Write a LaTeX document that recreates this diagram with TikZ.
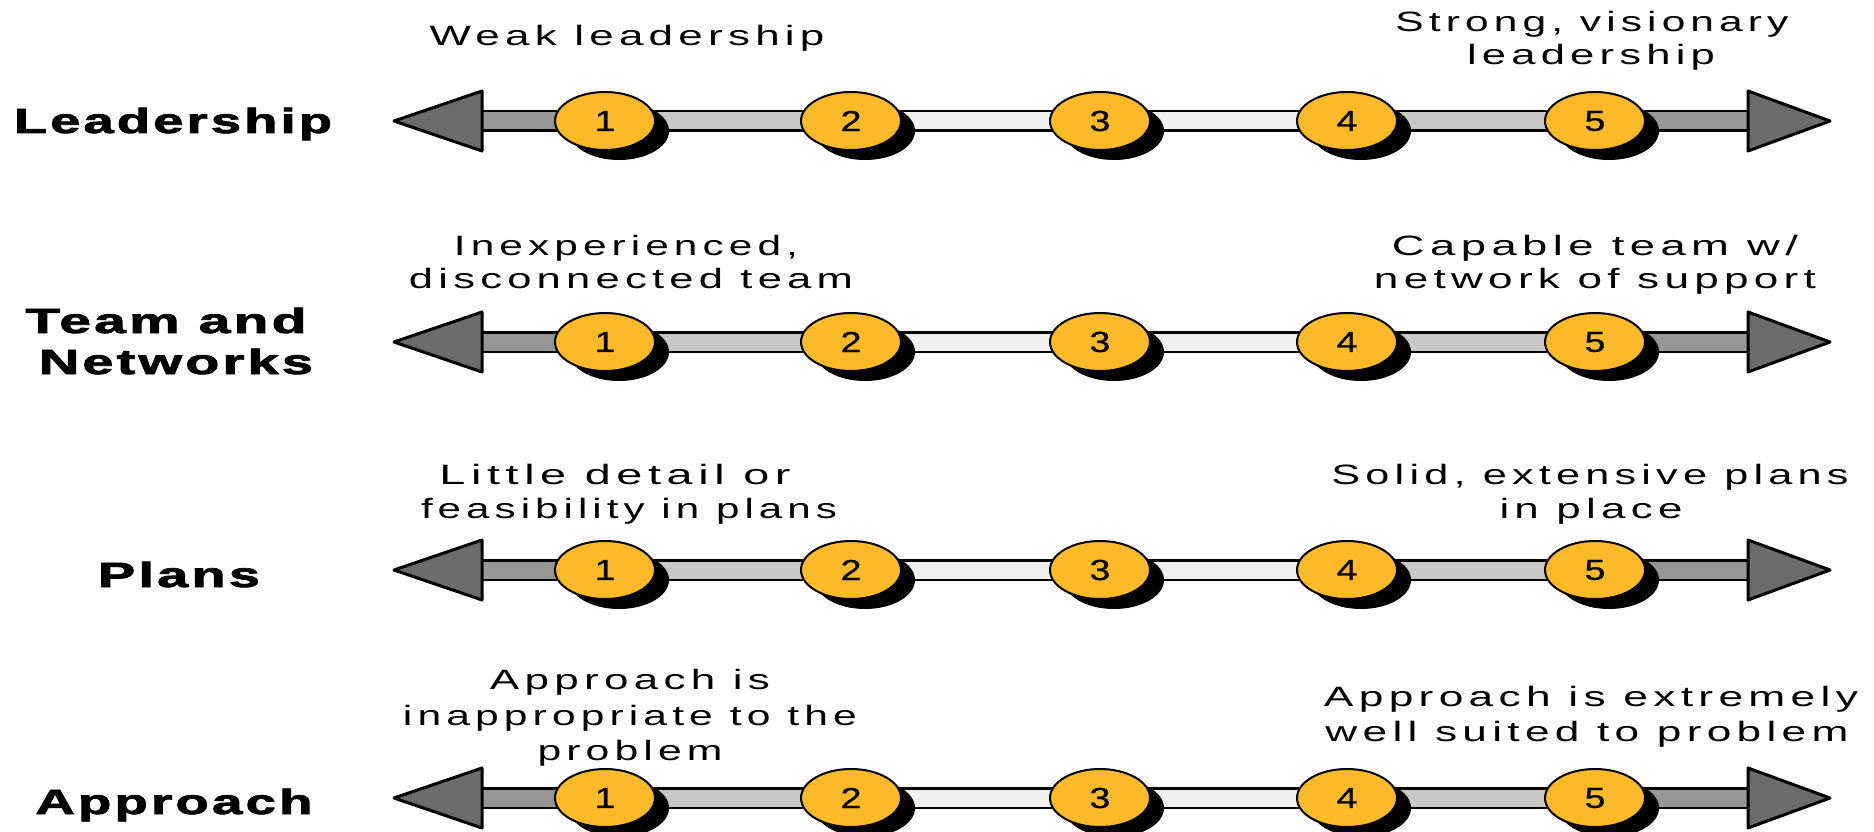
\documentclass[tikz,border=0pt]{standalone}
\usepackage{fontspec}
\setmainfont{Liberation Sans}
\newfontfamily\capfont[LetterSpace=12]{Liberation Sans}
\newfontfamily\lblfont[LetterSpace=6,FakeBold=2]{Liberation Sans Bold}
\newfontfamily\numfont[FakeBold=0.6]{Liberation Sans}
\usetikzlibrary{shapes.geometric,shadows}
\definecolor{discfill}{RGB}{252,186,40}
\definecolor{segdark}{RGB}{150,150,150}
\definecolor{segmid}{RGB}{200,200,200}
\definecolor{seglight}{RGB}{240,240,240}
\definecolor{headfill}{RGB}{108,108,108}
\newcommand\fitw[2]{\resizebox{#1pt}{\height}{#2}}
\begin{document}
\begin{tikzpicture}[x=1pt,y=-1pt,
  capt/.style={anchor=base, inner sep=0pt, font=\capfont\fontsize{28}{30}\selectfont},
  lbl/.style={anchor=base, inner sep=0pt, font=\lblfont\fontsize{35}{37}\selectfont},
  numcirc/.style={ellipse, minimum width=100pt, minimum height=58pt, inner sep=0pt,
    fill=discfill, draw=black, line width=2pt,
    drop shadow={shadow xshift=14pt, shadow yshift=-10pt, opacity=1, fill=black},
    font=\numfont\fontsize{29}{30}\selectfont},
  shaftout/.style={draw=black, line width=22pt},
  shaftin/.style={draw=#1, line width=17pt},
  arrowhd/.style={fill=headfill, draw=black, line width=3pt, line join=round}]
\useasboundingbox (0,0) rectangle (1874,832);
\fill[white] (0,0) rectangle (1874,832);

\foreach \r/\y in {1/121,2/342,3/570,4/798}{
  \coordinate (L\r) at (394,\y);
  \coordinate (Lb\r) at (482,\y);
  \coordinate (Rb\r) at (1748,\y);
  \coordinate (R\r) at (1830,\y);
  \foreach \k/\x in {1/605,2/851,3/1100,4/1347,5/1595}
    \coordinate (c\r\k) at (\x,\y);
  \draw[shaftout] (Lb\r) -- (Rb\r);
  \draw[shaftin=segdark] (Lb\r) -- (c\r1);
  \draw[shaftin=segmid] (c\r1) -- (c\r2);
  \draw[shaftin=seglight] (c\r2) -- (c\r4);
  \draw[shaftin=segmid] (c\r4) -- (c\r5);
  \draw[shaftin=segdark] (c\r5) -- (Rb\r);
  \filldraw[arrowhd] (L\r) -- ++(88,-30) -- ++(0,60) -- cycle;
  \filldraw[arrowhd] (R\r) -- ++(-82,-30) -- ++(0,60) -- cycle;
  \foreach \k in {1,...,5}
    \node[numcirc] (n\r\k) at (c\r\k) {\scalebox{1.3}[1]{\k}};
}

% left labels
\node[lbl] (lLead) at (173,133) {\fitw{318}{Leadership}};
\node[lbl] (lTeam) at (166,333) {\fitw{281}{Team and}};
\node[lbl] (lNet) at (176,374) {\fitw{274}{Networks}};
\node[lbl] (lPlan) at (179,587) {\fitw{162}{Plans}};
\node[lbl] (lAppr) at (174,814) {\fitw{277}{Approach}};

% row 1 captions
\node[capt] (a1) at (627,46) {\fitw{395}{Weak leadership}};
\node[capt] (b1) at (1592,32) {\fitw{393}{Strong, visionary}};
\node[capt] (b1b) at (1591,65) {\fitw{248}{leadership}};
% row 2
\node[capt] (a2) at (626,255) {\fitw{344}{Inexperienced,}};
\node[capt] (a2b) at (631,288) {\fitw{444}{disconnected team}};
\node[capt] (b2) at (1595,255) {\fitw{406}{Capable team w/}};
\node[capt] (b2b) at (1595,288) {\fitw{442}{network of support}};
% row 3
\node[capt] (a3) at (615,484) {\fitw{351}{Little detail or}};
\node[capt] (a3b) at (629,518) {\fitw{416}{feasibility in plans}};
\node[capt] (b3) at (1590,484) {\fitw{517}{Solid, extensive plans}};
\node[capt] (b3b) at (1591,518) {\fitw{183}{in place}};
% row 4
\node[capt] (a4) at (630,689) {\fitw{280}{Approach is}};
\node[capt] (a4b) at (630,725) {\fitw{454}{inappropriate to the}};
\node[capt] (a4c) at (630,760) {\fitw{185}{problem}};
\node[capt] (b4) at (1591,706) {\fitw{534}{Approach is extremely}};
\node[capt] (b4b) at (1587,741) {\fitw{523}{well suited to problem}};
\end{tikzpicture}
\end{document}
